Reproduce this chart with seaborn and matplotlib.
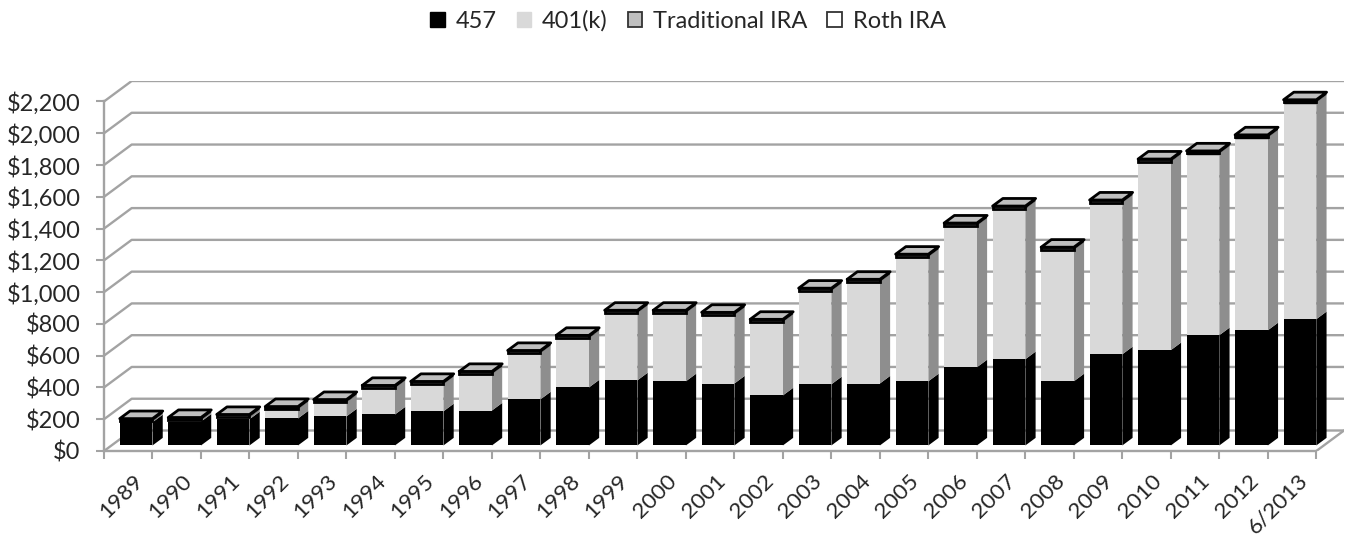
import matplotlib
matplotlib.use("Agg")
import matplotlib.pyplot as plt
from matplotlib.patches import Patch
import pandas as pd
import seaborn as sns

years = ["1989","1990","1991","1992","1993","1994","1995","1996","1997","1998","1999","2000",
         "2001","2002","2003","2004","2005","2006","2007","2008","2009","2010","2011","2012","6/2013"]
v457 = [146,150,165,170,183,195,215,220,290,365,410,404,390,315,385,390,404,492,543,404,574,600,694,725,795]
v401k = [5,8,12,57,88,165,170,228,290,310,423,429,430,461,587,638,782,890,946,826,953,1185,1142,1212,1363]
vtrad = [16,16,16,16,16,16,16,16,16,16,16,16,16,16,16,16,16,16,16,16,16,16,16,16,16]
vroth = [2,2,2,2,2,2,2,2,2,2,2,2,2,2,2,2,2,2,2,2,2,2,2,2,2]
yticks = [0,200,400,600,800,1000,1200,1400,1600,1800,2000,2200]

sns.set_theme(style="white")
FONT = "Lato"
plt.rcParams["font.family"] = [FONT, "DejaVu Sans"]
TXT = "#262626"; GRID = "#A3A3A3"
FS = 17

W, H = 1348, 539
fig = plt.figure(figsize=(W/100, H/100), dpi=100, facecolor="white")
ax = fig.add_axes([104/W, (H-451)/H, (1344-104)/W, (451-81)/H])
BACK_X, BACK_Y = 0.571, 129.0           # wall depth in axis units
ax.set_facecolor("none")

# 3D offsets of the bar slab within the floor depth
D0, DD = 0.27, 0.37
shift_y = D0*BACK_Y
dx, dy = DD*BACK_X, DD*BACK_Y
bw = 0.675
n = len(years)
pos = [i + 1 - bw/2 for i in range(n)]

df = pd.DataFrame(dict(pos=pos, v457=v457, v401k=v401k, vroth=vroth, vtrad=vtrad))
base = [shift_y]*n
layers = [("v457", "#000000", "#000000", "#000000", 0),
          ("v401k", "#D9D9D9", "#8E8E8E", "#D9D9D9", 0),
          ("vroth", "#FFFFFF", "#000000", "#000000", 1.0),
          ("vtrad", "#BFBFBF", "#000000", "#000000", 2.0)]
for col, face, side, edge, lw in layers:
    sns.barplot(data=df, x="pos", y=col, native_scale=True, width=bw, bottom=base, color=face,
                saturation=1, edgecolor=edge, linewidth=lw, ax=ax, zorder=4)
    for p, b, v in zip(pos, base, df[col]):
        xr = p + bw/2
        ax.fill([xr, xr+dx, xr+dx, xr], [b, b+dy, b+v+dy, b+v], color=side, lw=0, zorder=3.5)
    base = [b + v for b, v in zip(base, df[col])]
for p, b in zip(pos, base):
    xl, xr = p - bw/2, p + bw/2
    ax.fill([xl, xr, xr+dx, xl+dx], [b, b, b+dy, b+dy], facecolor="#BFBFBF", edgecolor="#000000",
            lw=2.0, joinstyle="round", zorder=5)

# Back wall and floor
xmax = n + BACK_X
for v in yticks:
    ax.plot([0, BACK_X, xmax], [v, v+BACK_Y, v+BACK_Y], color=GRID, lw=1.7, zorder=1, solid_joinstyle="round")
ax.plot([n, xmax], [0, BACK_Y], color=GRID, lw=1.7, zorder=1)

ax.set_xlim(0, xmax)
ax.set_ylim(0, 2200 + BACK_Y)
ax.set_xlabel(""); ax.set_ylabel("")
for s in ("top", "right"):
    ax.spines[s].set_visible(False)
for s in ("left", "bottom"):
    ax.spines[s].set_color(GRID); ax.spines[s].set_linewidth(1.7)
ax.spines["left"].set_bounds(0, 2200)
ax.spines["bottom"].set_bounds(0, n)

ax.set_yticks(yticks)
ax.set_yticklabels([f"${v:,}" for v in yticks], fontsize=FS, color=TXT)
ax.set_xticks(range(n+1))
ax.set_xticklabels([""]*(n+1))
ax.set_xticks([i+0.6 for i in range(n)], minor=True)
ax.set_xticklabels(years, minor=True, rotation=45, ha="right", rotation_mode="anchor", fontsize=16.2, color=TXT)
ax.tick_params(axis="y", which="major", length=6, width=1.5, color=GRID, left=True, pad=11)
ax.tick_params(axis="x", which="major", length=6, width=1.5, color=GRID, bottom=True, pad=4)
ax.tick_params(axis="x", which="minor", length=0, pad=14, bottom=False)

handles = [Patch(facecolor="#000000", edgecolor="#000000", label="457"),
           Patch(facecolor="#D9D9D9", edgecolor="#D9D9D9", label="401(k)"),
           Patch(facecolor="#BFBFBF", edgecolor="#333333", lw=1.3, label="Traditional IRA"),
           Patch(facecolor="#FFFFFF", edgecolor="#333333", lw=1.3, label="Roth IRA")]
leg = fig.legend(handles=handles, ncol=4, loc="center", bbox_to_anchor=(688/W, 1-21/H), frameon=False,
                 fontsize=FS, handlelength=0.62, handleheight=0.62, handletextpad=0.45, columnspacing=0.85,
                 labelcolor=TXT, borderpad=0)
fig.savefig("out.png", dpi=100, facecolor="white")
